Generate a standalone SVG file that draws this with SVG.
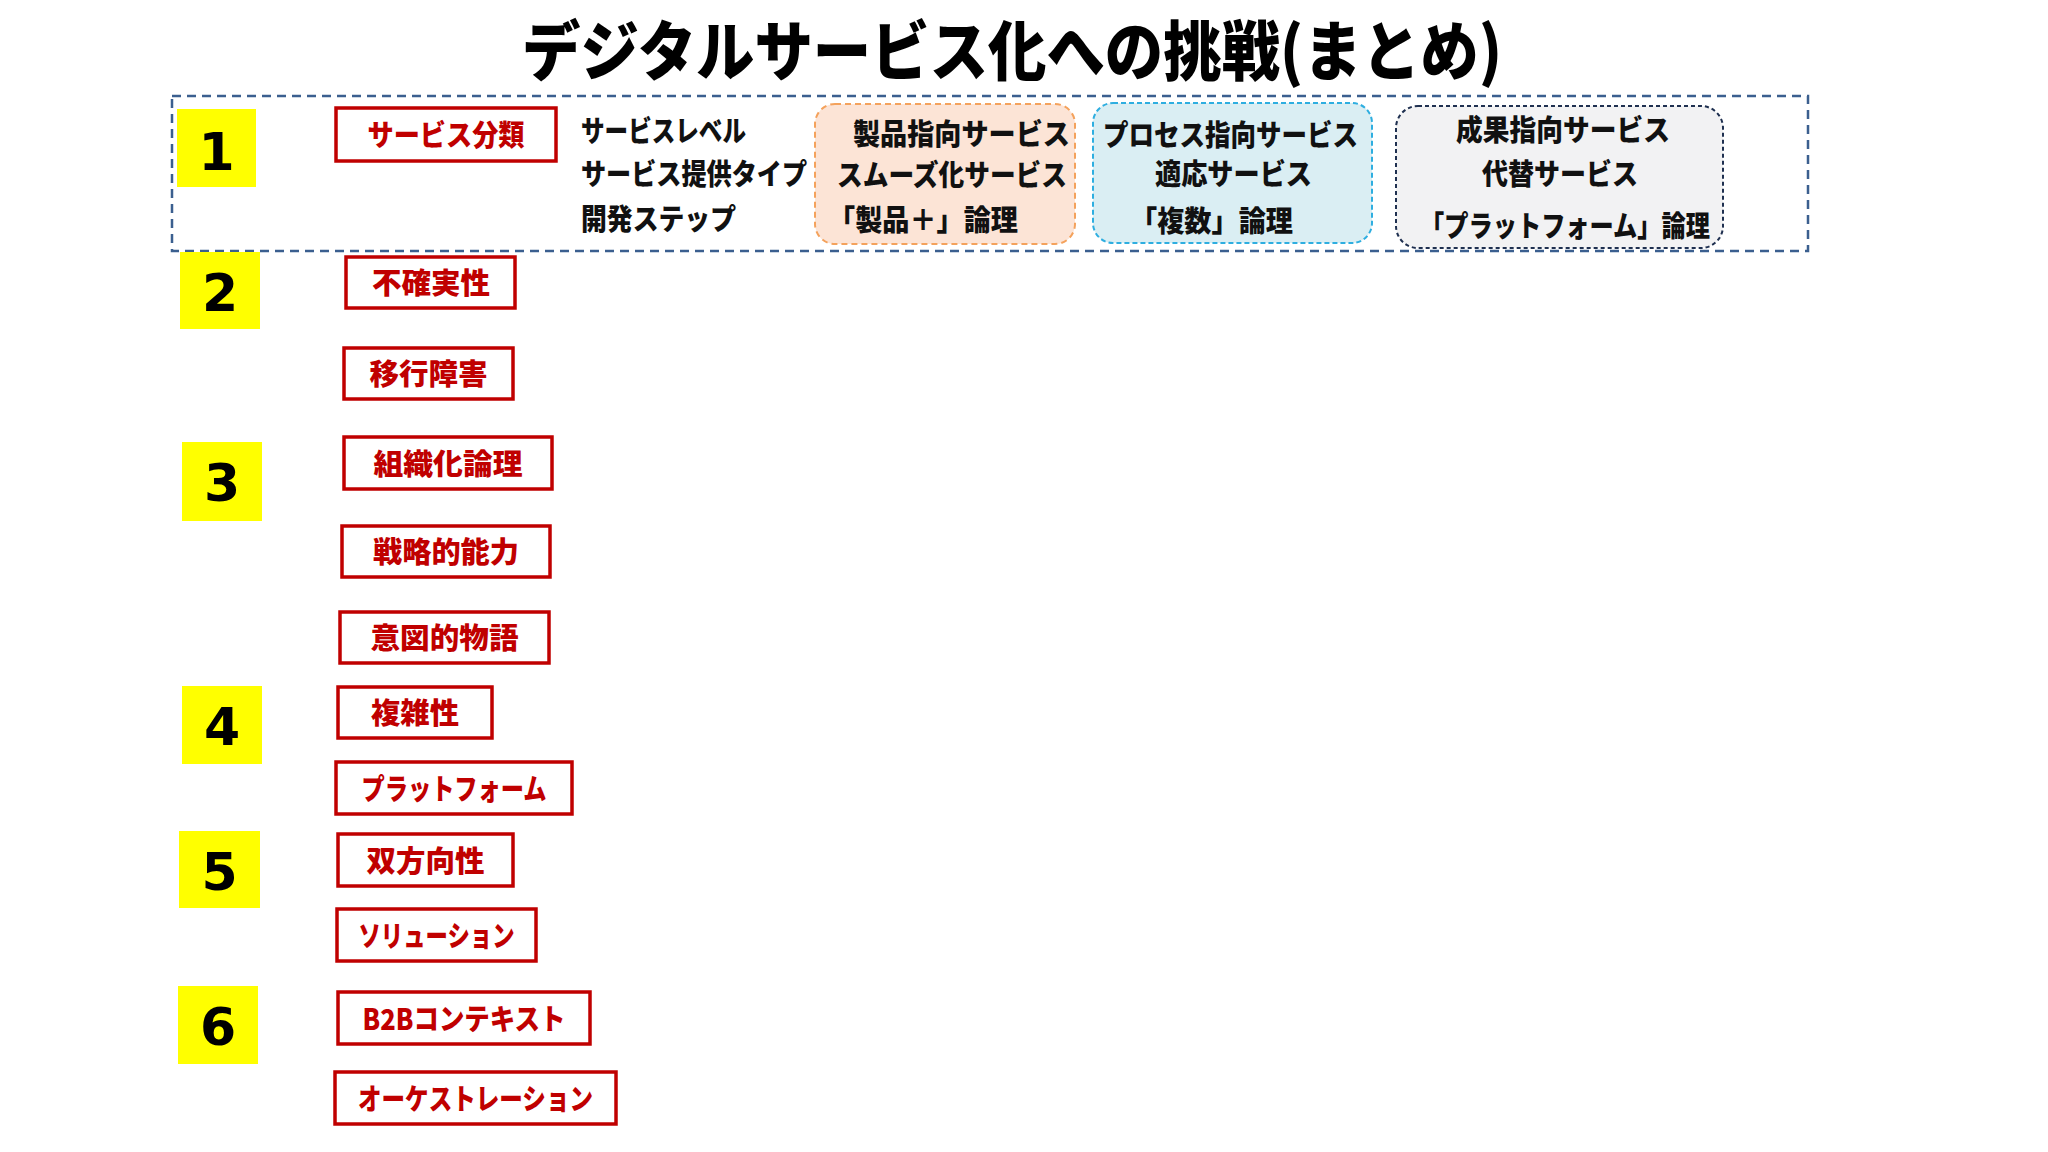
<svg xmlns="http://www.w3.org/2000/svg" width="2048" height="1152" viewBox="0 0 2048 1152">
<style>
  .jp { font-family: "Noto Sans CJK JP", "Noto Sans", sans-serif; font-weight: 900; }
  .title { font-size: 65px; font-weight: 900; fill: #000; }
  .body { font-size: 29px; fill: #111; }
  .lbl { font-size: 29px; fill: #c00000; text-anchor: middle; }
  .redbox { fill: #ffffff; stroke: #c00000; stroke-width: 3.5; }
  .ybox { fill: #ffff00; }
  .num { font-family: "DejaVu Sans", Verdana, sans-serif; font-weight: 700; font-size: 52px; fill: #000; text-anchor: middle; }
  .outer { fill: none; stroke: #3b5f8f; stroke-width: 2.5; stroke-dasharray: 9 6; }
  .orange { fill: #fce4d6; stroke: #f4a25c; stroke-width: 2; stroke-dasharray: 6 4; }
  .blue { fill: #daeef3; stroke: #2eaee0; stroke-width: 2; stroke-dasharray: 5 3; }
  .gray { fill: #f2f2f3; stroke: #1f3050; stroke-width: 2; stroke-dasharray: 4 3; }
</style>
<rect x="0" y="0" width="2048" height="1152" fill="#ffffff"/>

<g id="title">
  <text class="jp title" x="1012" y="75" text-anchor="middle" textLength="980" lengthAdjust="spacingAndGlyphs">デジタルサービス化への挑戦(まとめ)</text>
</g>

<g id="section1">
  <rect class="outer" x="172" y="96" width="1636" height="155"/>
</g>

<g id="num1"><rect class="ybox" x="177" y="109" width="79" height="78"/><text class="num" x="216.5" y="170">1</text></g>
<g id="num2"><rect class="ybox" x="180" y="252" width="80" height="77"/><text class="num" x="220" y="311">2</text></g>
<g id="num3"><rect class="ybox" x="182" y="442" width="80" height="79"/><text class="num" x="222" y="501">3</text></g>
<g id="num4"><rect class="ybox" x="182" y="686" width="80" height="78"/><text class="num" x="222" y="745">4</text></g>
<g id="num5"><rect class="ybox" x="179" y="831" width="81" height="77"/><text class="num" x="219.5" y="890">5</text></g>
<g id="num6"><rect class="ybox" x="178" y="986" width="80" height="78"/><text class="num" x="218" y="1045">6</text></g>

<g id="service-class">
  <rect class="redbox" x="336" y="108" width="220" height="53"/>
  <text class="jp lbl" x="446" y="146" textLength="157" lengthAdjust="spacingAndGlyphs">サービス分類</text>
</g>

<g id="service-levels">
  <text class="jp body" x="581" y="142" textLength="165" lengthAdjust="spacingAndGlyphs">サービスレベル</text>
  <text class="jp body" x="581" y="185" textLength="226" lengthAdjust="spacingAndGlyphs">サービス提供タイプ</text>
  <text class="jp body" x="581" y="230" textLength="155" lengthAdjust="spacingAndGlyphs">開発ステップ</text>
</g>

<g id="product-oriented">
  <rect class="orange" x="815" y="104" width="260" height="140" rx="20" ry="20"/>
  <text class="jp body" x="853" y="145" textLength="217" lengthAdjust="spacingAndGlyphs">製品指向サービス</text>
  <text class="jp body" x="837" y="186" textLength="230" lengthAdjust="spacingAndGlyphs">スムーズ化サービス</text>
  <text class="jp body" x="828" y="231" textLength="190" lengthAdjust="spacingAndGlyphs">「製品＋」論理</text>
</g>

<g id="process-oriented">
  <rect class="blue" x="1093" y="103" width="279" height="140" rx="20" ry="20"/>
  <text class="jp body" x="1103" y="146" textLength="255" lengthAdjust="spacingAndGlyphs">プロセス指向サービス</text>
  <text class="jp body" x="1155" y="185" textLength="157" lengthAdjust="spacingAndGlyphs">適応サービス</text>
  <text class="jp body" x="1130" y="232" textLength="163" lengthAdjust="spacingAndGlyphs">「複数」論理</text>
</g>

<g id="outcome-oriented">
  <rect class="gray" x="1396" y="106" width="327" height="142" rx="22" ry="22"/>
  <text class="jp body" x="1456" y="141" textLength="214" lengthAdjust="spacingAndGlyphs">成果指向サービス</text>
  <text class="jp body" x="1482" y="185" textLength="156" lengthAdjust="spacingAndGlyphs">代替サービス</text>
  <text class="jp body" x="1420" y="237" textLength="290" lengthAdjust="spacingAndGlyphs">「プラットフォーム」論理</text>
</g>

<g id="uncertainty">
  <rect class="redbox" x="346" y="257" width="169" height="51"/>
  <text class="jp lbl" x="431" y="294" textLength="118" lengthAdjust="spacingAndGlyphs">不確実性</text>
</g>
<g id="migration-barrier">
  <rect class="redbox" x="344" y="348" width="169" height="51"/>
  <text class="jp lbl" x="428.5" y="385" textLength="118" lengthAdjust="spacingAndGlyphs">移行障害</text>
</g>
<g id="org-logic">
  <rect class="redbox" x="344" y="437" width="208" height="52"/>
  <text class="jp lbl" x="448" y="475" textLength="149" lengthAdjust="spacingAndGlyphs">組織化論理</text>
</g>
<g id="strategic-capability">
  <rect class="redbox" x="342" y="526" width="208" height="51"/>
  <text class="jp lbl" x="446" y="563" textLength="146" lengthAdjust="spacingAndGlyphs">戦略的能力</text>
</g>
<g id="intentional-narrative">
  <rect class="redbox" x="340" y="612" width="209" height="51"/>
  <text class="jp lbl" x="444.5" y="649" textLength="148" lengthAdjust="spacingAndGlyphs">意図的物語</text>
</g>
<g id="complexity">
  <rect class="redbox" x="338" y="687" width="154" height="51"/>
  <text class="jp lbl" x="415" y="724" textLength="88" lengthAdjust="spacingAndGlyphs">複雑性</text>
</g>
<g id="platform">
  <rect class="redbox" x="336" y="762" width="236" height="52"/>
  <text class="jp lbl" x="454" y="800" textLength="185" lengthAdjust="spacingAndGlyphs">プラットフォーム</text>
</g>
<g id="bidirectional">
  <rect class="redbox" x="338" y="834" width="175" height="52"/>
  <text class="jp lbl" x="425.5" y="872" textLength="118" lengthAdjust="spacingAndGlyphs">双方向性</text>
</g>
<g id="solution">
  <rect class="redbox" x="337" y="909" width="199" height="52"/>
  <text class="jp lbl" x="436.5" y="947" textLength="156" lengthAdjust="spacingAndGlyphs">ソリューション</text>
</g>
<g id="b2b-context">
  <rect class="redbox" x="338" y="992" width="252" height="52"/>
  <text class="jp lbl" x="464" y="1030" textLength="203" lengthAdjust="spacingAndGlyphs">B2Bコンテキスト</text>
</g>
<g id="orchestration">
  <rect class="redbox" x="335" y="1072" width="281" height="52"/>
  <text class="jp lbl" x="475.5" y="1110" textLength="235" lengthAdjust="spacingAndGlyphs">オーケストレーション</text>
</g>
</svg>
